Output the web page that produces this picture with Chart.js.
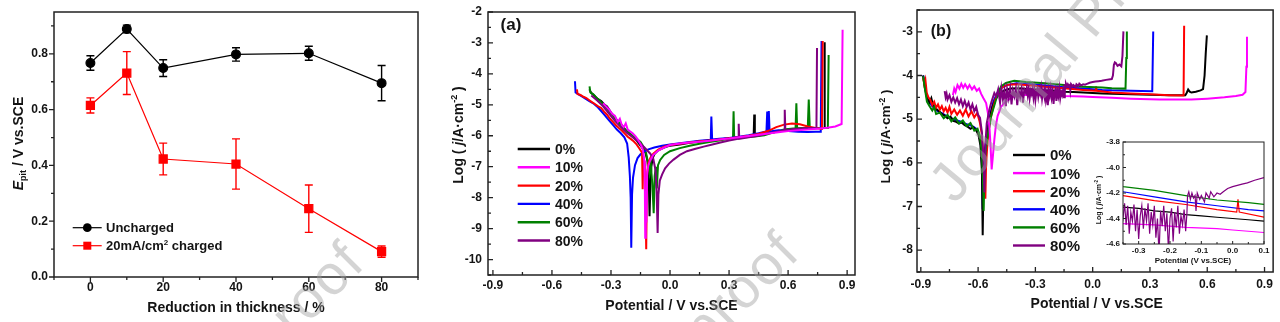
<!DOCTYPE html>
<html>
<head>
<meta charset="utf-8">
<title>Pitting potential and polarization curves</title>
<script src="https://cdn.jsdelivr.net/npm/chart.js@4.4.1/dist/chart.umd.min.js"></script>
<style>
  html, body { margin: 0; padding: 0; background: #fff; }
  #figure { position: relative; width: 1280px; height: 322px; overflow: hidden; }
  #figure canvas { position: absolute; top: 0; }
</style>
</head>
<body>
<div id="figure">
  <canvas id="epitChart" width="430" height="322" style="left:0"></canvas>
  <canvas id="polarA" width="450" height="322" style="left:430px"></canvas>
  <canvas id="polarB" width="410" height="322" style="left:870px"></canvas>
  <canvas id="polarInset" width="185" height="135" style="left:1090px; top:135px"></canvas>
  <canvas id="watermark" width="1280" height="322" style="left:0; pointer-events:none"></canvas>
</div>
<script>
// Fonts / colours
const FONT = '"Liberation Sans", Arial, sans-serif';
const INK = '#141414';
const bold = (size, italic) => `${italic ? 'italic ' : ''}bold ${size}px ${FONT}`;

// Pitting potential vs. reduction in thickness
const thickness = [0, 10, 20, 40, 60, 80];
const epitUncharged = [0.767, 0.889, 0.749, 0.798, 0.802, 0.695];
const errUncharged = [0.026, 0.014, 0.030, 0.024, 0.025, 0.063];
const epitCharged = [0.615, 0.731, 0.423, 0.405, 0.245, 0.091];
const errCharged = [0.027, 0.077, 0.057, 0.090, 0.085, 0.020];

const thicknessTicks = [0, 20, 40, 60, 80];
const epitTicks = [0, 0.2, 0.4, 0.6, 0.8];

// Polarization curves
const seriesLabels = ['0%', '10%', '20%', '40%', '60%', '80%'];
const seriesColors = ['#000000', '#ff00ff', '#ff0000', '#0000ff', '#008000', '#800080'];
const potentialTicks = [-0.9, -0.6, -0.3, 0, 0.3, 0.6, 0.9];
const logTicksA = [-10, -9, -8, -7, -6, -5, -4, -3, -2];
const logTicksB = [-8, -7, -6, -5, -4, -3];
const insetPotentialTicks = [-0.3, -0.2, -0.1, 0, 0.1];
const insetLogTicks = [-4.6, -4.4, -4.2, -4.0, -3.8];

// (a) [potential V, log j]
const curveA0 = [[-0.41,-4.50],[-0.40,-4.62],[-0.385,-4.70],[-0.37,-4.80],[-0.35,-4.88],[-0.335,-4.98],[-0.32,-5.05],[-0.30,-5.25],[-0.285,-5.38],[-0.27,-5.50],[-0.26,-5.58],[-0.245,-5.66],[-0.23,-5.78],[-0.215,-5.88],[-0.20,-5.95],[-0.185,-6.05],[-0.17,-6.15],[-0.155,-6.28],[-0.14,-6.40],[-0.125,-6.55],[-0.115,-6.80],[-0.108,-7.40],[-0.104,-8.60],[-0.100,-7.60],[-0.095,-7.00],[-0.088,-6.72],[-0.078,-6.58],[-0.06,-6.47],[-0.03,-6.38],[0.0,-6.32],[0.05,-6.28],[0.10,-6.23],[0.15,-6.19],[0.20,-6.15],[0.25,-6.12],[0.30,-6.08],[0.35,-6.05],[0.40,-6.02],[0.425,-6.00],[0.428,-5.31],[0.431,-6.00],[0.45,-5.98],[0.50,-5.92],[0.55,-5.86],[0.60,-5.80],[0.65,-5.78],[0.70,-5.76],[0.75,-5.75],[0.783,-5.74],[0.786,-2.98]];
const curveA10 = [[-0.34,-4.95],[-0.325,-5.05],[-0.31,-5.15],[-0.295,-5.28],[-0.28,-5.36],[-0.265,-5.55],[-0.255,-5.45],[-0.245,-5.65],[-0.235,-5.72],[-0.225,-5.60],[-0.215,-5.80],[-0.205,-5.85],[-0.19,-5.92],[-0.175,-6.02],[-0.16,-6.15],[-0.148,-6.30],[-0.138,-6.45],[-0.131,-6.80],[-0.128,-7.60],[-0.126,-9.30],[-0.123,-7.90],[-0.120,-8.80],[-0.116,-7.20],[-0.110,-6.95],[-0.10,-6.78],[-0.085,-6.62],[-0.06,-6.48],[-0.03,-6.38],[0.0,-6.30],[0.05,-6.25],[0.10,-6.22],[0.15,-6.19],[0.20,-6.16],[0.25,-6.12],[0.30,-6.09],[0.35,-6.05],[0.40,-6.01],[0.45,-5.97],[0.50,-5.93],[0.55,-5.89],[0.60,-5.85],[0.65,-5.82],[0.70,-5.80],[0.75,-5.77],[0.80,-5.74],[0.84,-5.70],[0.872,-5.62],[0.877,-2.57]];
const curveA20 = [[-0.473,-4.50],[-0.470,-4.65],[-0.455,-4.68],[-0.44,-4.74],[-0.425,-4.78],[-0.41,-4.85],[-0.395,-4.92],[-0.38,-4.98],[-0.365,-5.05],[-0.35,-5.10],[-0.335,-5.22],[-0.32,-5.32],[-0.305,-5.45],[-0.29,-5.55],[-0.275,-5.66],[-0.26,-5.75],[-0.245,-5.83],[-0.23,-5.93],[-0.215,-6.03],[-0.20,-6.10],[-0.185,-6.18],[-0.17,-6.28],[-0.155,-6.42],[-0.142,-6.55],[-0.139,-7.73],[-0.135,-6.70],[-0.127,-6.95],[-0.121,-9.67],[-0.117,-7.30],[-0.11,-6.88],[-0.10,-6.72],[-0.085,-6.58],[-0.06,-6.45],[-0.03,-6.35],[0.0,-6.30],[0.05,-6.26],[0.10,-6.22],[0.15,-6.18],[0.20,-6.15],[0.25,-6.12],[0.30,-6.08],[0.35,-6.05],[0.40,-6.00],[0.45,-5.94],[0.50,-5.84],[0.54,-5.72],[0.58,-5.64],[0.62,-5.60],[0.66,-5.63],[0.70,-5.70],[0.74,-5.75],[0.772,-5.78],[0.776,-2.94]];
const curveA40 = [[-0.483,-4.24],[-0.480,-4.60],[-0.465,-4.66],[-0.45,-4.72],[-0.43,-4.80],[-0.41,-4.88],[-0.39,-4.95],[-0.37,-5.06],[-0.35,-5.20],[-0.33,-5.35],[-0.31,-5.50],[-0.29,-5.65],[-0.27,-5.80],[-0.25,-5.92],[-0.232,-6.05],[-0.218,-6.25],[-0.210,-6.70],[-0.204,-7.30],[-0.200,-8.00],[-0.197,-9.62],[-0.193,-7.90],[-0.188,-7.35],[-0.178,-6.95],[-0.165,-6.72],[-0.15,-6.60],[-0.13,-6.50],[-0.11,-6.44],[-0.08,-6.38],[-0.04,-6.32],[0.0,-6.28],[0.05,-6.24],[0.10,-6.20],[0.15,-6.16],[0.207,-6.13],[0.210,-5.38],[0.214,-6.12],[0.25,-6.10],[0.30,-6.07],[0.35,-6.03],[0.40,-5.98],[0.45,-5.92],[0.490,-5.86],[0.494,-5.22],[0.498,-5.86],[0.502,-5.20],[0.506,-5.86],[0.55,-5.82],[0.60,-5.85],[0.65,-5.87],[0.70,-5.88],[0.74,-5.87],[0.766,-5.87],[0.770,-2.94]];
const curveA60 = [[-0.409,-4.40],[-0.405,-4.60],[-0.39,-4.66],[-0.375,-4.76],[-0.36,-4.85],[-0.345,-4.95],[-0.33,-5.05],[-0.315,-5.16],[-0.30,-5.28],[-0.285,-5.38],[-0.27,-5.50],[-0.255,-5.60],[-0.24,-5.72],[-0.225,-5.82],[-0.21,-5.90],[-0.195,-5.98],[-0.18,-6.06],[-0.165,-6.12],[-0.15,-6.20],[-0.135,-6.35],[-0.122,-6.55],[-0.112,-6.85],[-0.104,-7.20],[-0.098,-6.90],[-0.090,-7.55],[-0.083,-8.50],[-0.078,-7.30],[-0.072,-7.00],[-0.067,-7.70],[-0.061,-6.95],[-0.05,-6.78],[-0.03,-6.62],[0.0,-6.50],[0.05,-6.40],[0.10,-6.32],[0.15,-6.26],[0.20,-6.20],[0.25,-6.15],[0.30,-6.10],[0.320,-6.08],[0.323,-5.21],[0.326,-6.08],[0.38,-6.05],[0.43,-6.02],[0.48,-5.98],[0.53,-5.88],[0.58,-5.80],[0.638,-5.76],[0.642,-4.95],[0.646,-5.76],[0.70,-5.74],[0.705,-4.83],[0.710,-5.74],[0.76,-5.75],[0.802,-5.75],[0.806,-3.39]];
const curveA80 = [[-0.40,-4.70],[-0.37,-4.86],[-0.34,-5.05],[-0.31,-5.28],[-0.28,-5.52],[-0.25,-5.72],[-0.22,-5.90],[-0.19,-6.05],[-0.16,-6.20],[-0.13,-6.38],[-0.10,-6.58],[-0.085,-6.75],[-0.074,-7.10],[-0.068,-7.80],[-0.063,-9.14],[-0.059,-7.90],[-0.052,-7.45],[-0.040,-7.25],[-0.025,-7.05],[-0.005,-6.90],[0.018,-6.77],[0.05,-6.62],[0.086,-6.50],[0.13,-6.42],[0.171,-6.35],[0.21,-6.29],[0.256,-6.22],[0.30,-6.15],[0.346,-6.10],[0.349,-5.61],[0.352,-6.10],[0.40,-6.05],[0.45,-6.00],[0.50,-5.92],[0.55,-5.86],[0.580,-5.82],[0.583,-5.16],[0.586,-5.82],[0.63,-5.78],[0.68,-5.76],[0.72,-5.75],[0.744,-5.75],[0.747,-3.16]];

// (b) [potential V, log j]
const curveB0 = [[-0.888,-4.00],[-0.878,-4.30],[-0.868,-4.50],[-0.855,-4.62],[-0.845,-4.52],[-0.835,-4.70],[-0.82,-4.76],[-0.805,-4.82],[-0.79,-4.88],[-0.775,-4.92],[-0.76,-4.98],[-0.745,-4.94],[-0.73,-5.04],[-0.715,-5.06],[-0.70,-5.10],[-0.685,-5.08],[-0.67,-5.14],[-0.655,-5.17],[-0.64,-5.22],[-0.625,-5.18],[-0.61,-5.26],[-0.598,-5.36],[-0.588,-5.60],[-0.580,-6.20],[-0.576,-7.66],[-0.572,-6.50],[-0.565,-5.85],[-0.555,-5.40],[-0.54,-5.00],[-0.525,-4.72],[-0.51,-4.55],[-0.49,-4.42],[-0.465,-4.35],[-0.43,-4.30],[-0.38,-4.29],[-0.35,-4.31],[-0.30,-4.32],[-0.25,-4.34],[-0.20,-4.35],[-0.15,-4.37],[-0.10,-4.38],[-0.05,-4.39],[0.0,-4.40],[0.05,-4.41],[0.10,-4.42],[0.20,-4.43],[0.30,-4.44],[0.40,-4.45],[0.485,-4.45],[0.492,-4.40],[0.500,-4.32],[0.508,-4.37],[0.517,-4.39],[0.54,-4.37],[0.565,-4.34],[0.578,-4.31],[0.586,-4.00],[0.592,-3.50],[0.598,-3.08]];
const curveB10 = [[-0.732,-4.45],[-0.725,-4.30],[-0.718,-4.38],[-0.708,-4.22],[-0.698,-4.30],[-0.688,-4.19],[-0.678,-4.28],[-0.668,-4.20],[-0.655,-4.30],[-0.645,-4.22],[-0.632,-4.32],[-0.62,-4.25],[-0.607,-4.35],[-0.595,-4.30],[-0.584,-4.42],[-0.572,-4.52],[-0.558,-4.63],[-0.548,-4.88],[-0.541,-5.16],[-0.535,-5.60],[-0.529,-6.15],[-0.522,-5.82],[-0.515,-5.47],[-0.507,-5.15],[-0.498,-4.93],[-0.48,-4.72],[-0.463,-4.63],[-0.44,-4.55],[-0.411,-4.48],[-0.35,-4.44],[-0.25,-4.45],[-0.15,-4.47],[-0.05,-4.48],[0.0,-4.49],[0.10,-4.51],[0.20,-4.53],[0.35,-4.55],[0.517,-4.55],[0.60,-4.53],[0.69,-4.50],[0.75,-4.47],[0.785,-4.44],[0.800,-4.38],[0.805,-3.80],[0.808,-3.11]];
const curveB20 = [[-0.888,-4.05],[-0.882,-4.20],[-0.876,-4.10],[-0.869,-4.40],[-0.860,-4.50],[-0.850,-4.56],[-0.840,-4.68],[-0.830,-4.60],[-0.820,-4.74],[-0.810,-4.66],[-0.800,-4.78],[-0.790,-4.70],[-0.780,-4.82],[-0.770,-4.74],[-0.760,-4.85],[-0.750,-4.72],[-0.740,-4.88],[-0.725,-4.78],[-0.710,-4.90],[-0.695,-4.80],[-0.680,-4.92],[-0.665,-4.78],[-0.650,-4.94],[-0.635,-4.82],[-0.620,-4.96],[-0.605,-4.86],[-0.592,-5.05],[-0.582,-5.30],[-0.573,-5.80],[-0.567,-6.20],[-0.562,-6.82],[-0.558,-6.00],[-0.550,-5.50],[-0.540,-5.10],[-0.525,-4.80],[-0.510,-4.55],[-0.490,-4.35],[-0.470,-4.26],[-0.440,-4.21],[-0.40,-4.20],[-0.35,-4.22],[-0.25,-4.26],[-0.15,-4.29],[-0.05,-4.33],[0.013,-4.35],[0.017,-4.25],[0.021,-4.35],[0.10,-4.39],[0.20,-4.41],[0.30,-4.43],[0.40,-4.45],[0.476,-4.46],[0.479,-2.86]];
const curveB40 = [[-0.888,-4.00],[-0.876,-4.30],[-0.865,-4.55],[-0.850,-4.65],[-0.830,-4.75],[-0.810,-4.82],[-0.790,-4.86],[-0.770,-4.92],[-0.750,-4.96],[-0.730,-5.00],[-0.710,-5.03],[-0.690,-5.06],[-0.670,-5.10],[-0.650,-5.13],[-0.630,-5.16],[-0.610,-5.22],[-0.596,-5.32],[-0.586,-5.56],[-0.580,-6.00],[-0.576,-7.06],[-0.572,-6.30],[-0.565,-5.70],[-0.550,-5.20],[-0.535,-4.85],[-0.520,-4.60],[-0.500,-4.40],[-0.480,-4.28],[-0.450,-4.22],[-0.40,-4.18],[-0.35,-4.19],[-0.25,-4.23],[-0.15,-4.27],[-0.05,-4.30],[0.05,-4.33],[0.10,-4.34],[0.20,-4.35],[0.312,-4.36],[0.317,-2.99]];
const curveB60 = [[-0.888,-4.02],[-0.877,-4.35],[-0.868,-4.60],[-0.855,-4.70],[-0.840,-4.80],[-0.830,-4.72],[-0.820,-4.88],[-0.800,-4.85],[-0.780,-4.98],[-0.760,-4.90],[-0.740,-5.05],[-0.720,-4.96],[-0.700,-5.10],[-0.680,-5.03],[-0.660,-5.16],[-0.640,-5.09],[-0.620,-5.26],[-0.603,-5.22],[-0.590,-5.40],[-0.580,-5.80],[-0.574,-6.50],[-0.571,-7.10],[-0.567,-6.20],[-0.560,-5.70],[-0.550,-5.40],[-0.532,-4.93],[-0.506,-4.55],[-0.480,-4.25],[-0.454,-4.17],[-0.411,-4.12],[-0.35,-4.15],[-0.25,-4.18],[-0.15,-4.22],[-0.05,-4.255],[0.05,-4.275],[0.10,-4.29],[0.172,-4.30],[0.176,-3.60],[0.179,-2.99]];
const curveB80 = [[-0.775,-4.36],[-0.770,-4.50],[-0.765,-4.42],[-0.760,-4.55],[-0.750,-4.45],[-0.740,-4.60],[-0.730,-4.50],[-0.720,-4.62],[-0.710,-4.52],[-0.700,-4.66],[-0.690,-4.55],[-0.680,-4.70],[-0.670,-4.58],[-0.660,-4.72],[-0.650,-4.62],[-0.640,-4.78],[-0.630,-4.66],[-0.620,-4.82],[-0.610,-4.72],[-0.600,-4.90],[-0.590,-4.97],[-0.580,-5.30],[-0.572,-5.90],[-0.567,-6.68],[-0.562,-5.60],[-0.555,-5.10],[-0.541,-4.78],[-0.530,-4.60],[-0.515,-4.40],[-0.505,-4.48],[-0.495,-4.32],[-0.485,-4.62],[-0.478,-4.30],[-0.470,-4.55],[-0.462,-4.34],[-0.455,-4.70],[-0.448,-4.32],[-0.440,-4.52],[-0.432,-4.30],[-0.425,-4.66],[-0.418,-4.34],[-0.410,-4.48],[-0.402,-4.30],[-0.395,-4.68],[-0.388,-4.33],[-0.380,-4.50],[-0.372,-4.30],[-0.365,-4.62],[-0.358,-4.32],[-0.350,-4.40],[-0.345,-4.28],[-0.340,-4.45],[-0.335,-4.30],[-0.330,-4.52],[-0.325,-4.35],[-0.320,-4.42],[-0.315,-4.29],[-0.310,-4.50],[-0.305,-4.33],[-0.300,-4.56],[-0.295,-4.38],[-0.290,-4.30],[-0.285,-4.48],[-0.280,-4.32],[-0.275,-4.42],[-0.270,-4.28],[-0.265,-4.52],[-0.260,-4.35],[-0.255,-4.45],[-0.250,-4.30],[-0.245,-4.55],[-0.240,-4.40],[-0.235,-4.68],[-0.230,-4.34],[-0.225,-4.46],[-0.220,-4.30],[-0.215,-4.50],[-0.210,-4.36],[-0.205,-4.65],[-0.200,-4.40],[-0.195,-4.32],[-0.190,-4.58],[-0.185,-4.35],[-0.180,-4.47],[-0.175,-4.30],[-0.170,-4.52],[-0.165,-4.38],[-0.160,-4.45],[-0.155,-4.33],[-0.150,-4.50],[-0.146,-4.36],[-0.144,-4.22],[-0.140,-4.19],[-0.135,-4.25],[-0.130,-4.20],[-0.125,-4.24],[-0.120,-4.22],[-0.117,-4.34],[-0.113,-4.20],[-0.105,-4.25],[-0.100,-4.22],[-0.090,-4.27],[-0.085,-4.20],[-0.075,-4.24],[-0.070,-4.19],[-0.060,-4.23],[-0.050,-4.20],[-0.040,-4.21],[-0.030,-4.19],[-0.016,-4.165],[0.0,-4.15],[0.015,-4.14],[0.030,-4.13],[0.047,-4.12],[0.070,-4.10],[0.100,-4.08],[0.106,-4.00],[0.111,-3.76],[0.116,-3.70],[0.122,-3.72],[0.130,-3.78],[0.140,-3.75],[0.150,-3.79],[0.156,-3.55],[0.161,-2.99]];

// Draw order (first entry ends up on top)
const curvesA = [[1, curveA10], [5, curveA80], [2, curveA20], [3, curveA40], [4, curveA60], [0, curveA0]];
const curvesB = [[5, curveB80], [1, curveB10], [4, curveB60], [2, curveB20], [0, curveB0], [3, curveB40]];

// Text runs (mixed italic / sub / superscript), centred or left aligned
function drawRuns(ctx, runs, x, y, opts = {}) {
  const size = opts.size || 14;
  ctx.save();
  ctx.translate(x, y);
  if (opts.angle) ctx.rotate(opts.angle);
  ctx.fillStyle = opts.color || INK;
  ctx.textBaseline = 'alphabetic';
  ctx.textAlign = 'left';
  let total = 0;
  runs.forEach(r => { ctx.font = r.font; r.w = ctx.measureText(r.text).width; total += r.w; });
  let cx = opts.align === 'left' ? 0 : -total / 2;
  const base = size * 0.36;
  runs.forEach(r => { ctx.font = r.font; ctx.fillText(r.text, cx, base + (r.dy || 0)); cx += r.w; });
  ctx.restore();
}

function logTitle(size, sup) {
  return [
    { text: 'Log ( ', font: bold(size) },
    { text: 'j', font: bold(size, true) },
    { text: '/A·cm', font: bold(size) },
    { text: '-2', font: bold(sup), dy: -size * 0.38 },
    { text: ' )', font: bold(size) }
  ];
}

// Minor ticks halfway between the labelled ones
function minorTicks(ticks, min, max) {
  const step = ticks[1] - ticks[0];
  const out = [];
  for (let i = -1; i < ticks.length; i++) {
    const v = ticks[0] + (i + 0.5) * step;
    if (v >= min - 1e-9 && v <= max + 1e-9) out.push(v);
  }
  return out;
}

// Box frame + major/minor tick marks
const framePlugin = {
  id: 'frame',
  afterDatasetsDraw(chart, args, opts) {
    const { ctx, chartArea: a } = chart;
    const xs = chart.scales.x, ys = chart.scales.y;
    const dir = opts.inward ? -1 : 1;
    ctx.save();
    ctx.strokeStyle = '#222';
    ctx.lineWidth = opts.lineWidth;
    ctx.strokeRect(a.left, a.top, a.right - a.left, a.bottom - a.top);
    ctx.lineWidth = opts.tickWidth;
    ctx.beginPath();
    const markX = (vals, len) => vals.forEach(v => {
      const p = xs.getPixelForValue(v);
      ctx.moveTo(p, a.bottom); ctx.lineTo(p, a.bottom + dir * len);
    });
    const markY = (vals, len) => vals.forEach(v => {
      const p = ys.getPixelForValue(v);
      ctx.moveTo(a.left, p); ctx.lineTo(a.left - dir * len, p);
    });
    markX(opts.xTicks, opts.major);
    markX(minorTicks(opts.xTicks, xs.min, xs.max), opts.minor);
    markY(opts.yTicks, opts.major);
    markY(minorTicks(opts.yTicks, ys.min, ys.max), opts.minor);
    ctx.stroke();
    ctx.restore();
  }
};

// Vertical error bars with caps
const errorBarPlugin = {
  id: 'errorBars',
  beforeDatasetsDraw(chart) {
    const { ctx } = chart;
    const ys = chart.scales.y;
    chart.data.datasets.forEach((ds, i) => {
      const meta = chart.getDatasetMeta(i);
      ctx.save();
      ctx.strokeStyle = ds.borderColor;
      ctx.lineWidth = 1.4;
      ctx.beginPath();
      meta.data.forEach((pt, j) => {
        const v = ds.data[j].y, e = ds.errors[j];
        const top = ys.getPixelForValue(v + e), bot = ys.getPixelForValue(v - e);
        ctx.moveTo(pt.x, top); ctx.lineTo(pt.x, bot);
        ctx.moveTo(pt.x - 4, top); ctx.lineTo(pt.x + 4, top);
        ctx.moveTo(pt.x - 4, bot); ctx.lineTo(pt.x + 4, bot);
      });
      ctx.stroke();
      ctx.restore();
    });
  }
};

function linearAxis(cfg) {
  return {
    type: 'linear',
    min: cfg.min,
    max: cfg.max,
    grid: { display: false, drawTicks: false },
    border: { display: false },
    afterBuildTicks: scale => { scale.ticks = cfg.ticks.map(v => ({ value: v })); },
    afterFit: scale => {
      if (cfg.width) scale.width = cfg.width;
      if (cfg.height) scale.height = cfg.height;
    },
    ticks: {
      autoSkip: false, maxRotation: 0, minRotation: 0, padding: cfg.pad, color: INK,
      font: { family: FONT, size: cfg.fontSize, weight: 'bold', lineHeight: 1 },
      callback: cfg.format
    }
  };
}

function makeChart(id, datasets, cfg) {
  return new Chart(document.getElementById(id), {
    type: 'scatter',
    data: { datasets },
    options: {
      responsive: false,
      animation: false,
      devicePixelRatio: 1,
      events: [],
      layout: { padding: cfg.padding },
      plugins: { legend: { display: false }, tooltip: { enabled: false }, frame: cfg.frame },
      scales: { x: linearAxis(cfg.x), y: linearAxis(cfg.y) }
    },
    plugins: [framePlugin].concat(cfg.extra || [])
  });
}

function curveSets(list, width) {
  return list.map(([k, data]) => ({
    label: seriesLabels[k],
    data,
    showLine: true,
    borderColor: seriesColors[k],
    borderWidth: width,
    pointRadius: 0,
    tension: 0
  }));
}

function drawSeriesLegend(ctx, x0, x1, y0, dy, size) {
  seriesLabels.forEach((label, i) => {
    const y = y0 + i * dy;
    ctx.save();
    ctx.strokeStyle = seriesColors[i];
    ctx.lineWidth = 2.4;
    ctx.beginPath(); ctx.moveTo(x0, y); ctx.lineTo(x1, y); ctx.stroke();
    ctx.restore();
    drawRuns(ctx, [{ text: label, font: bold(size) }], x1 + 5, y, { size, align: 'left' });
  });
}

const fixed1 = v => v.toFixed(1);
const whole = v => String(v);

// Pitting potential chart
const epitChart = makeChart('epitChart', [
  {
    label: 'Uncharged',
    data: thickness.map((t, i) => ({ x: t, y: epitUncharged[i] })),
    errors: errUncharged,
    showLine: true, borderColor: '#000', backgroundColor: '#000', borderWidth: 1.2,
    pointStyle: 'circle', pointRadius: 4.4
  },
  {
    label: '20mA/cm2 charged',
    data: thickness.map((t, i) => ({ x: t, y: epitCharged[i] })),
    errors: errCharged,
    showLine: true, borderColor: '#ff0000', backgroundColor: '#ff0000', borderWidth: 1.2,
    pointStyle: 'rect', pointRadius: 5.7
  }
], {
  padding: { left: 0, top: 10, right: 12, bottom: 0 },
  x: { min: -10, max: 90, ticks: thicknessTicks, height: 45, pad: 5, fontSize: 12, format: whole },
  y: { min: 0, max: 0.95, ticks: epitTicks, width: 54, pad: 6, fontSize: 12, format: fixed1 },
  frame: { inward: false, lineWidth: 1.5, tickWidth: 1.3, xTicks: thicknessTicks, yTicks: epitTicks, major: 5, minor: 3 },
  extra: [errorBarPlugin, {
    id: 'epitText',
    afterDraw(chart) {
      const ctx = chart.ctx;
      drawRuns(ctx, [{ text: 'Reduction in thickness / %', font: bold(14) }], 236, 307);
      drawRuns(ctx, [
        { text: 'E', font: bold(14, true) },
        { text: 'pit', font: bold(9), dy: 3 },
        { text: ' / V vs.SCE', font: bold(14) }
      ], 18, 143.5, { angle: -Math.PI / 2 });
      // legend
      ctx.save();
      ctx.lineWidth = 1.2;
      ctx.strokeStyle = '#000';
      ctx.beginPath(); ctx.moveTo(72.7, 227.7); ctx.lineTo(101.7, 227.7); ctx.stroke();
      ctx.fillStyle = '#000';
      ctx.beginPath(); ctx.arc(87.3, 227.7, 4.4, 0, Math.PI * 2); ctx.fill();
      ctx.strokeStyle = '#ff0000';
      ctx.beginPath(); ctx.moveTo(72.7, 245.7); ctx.lineTo(101.7, 245.7); ctx.stroke();
      ctx.fillStyle = '#ff0000';
      ctx.fillRect(83.3, 241.7, 8, 8);
      ctx.restore();
      drawRuns(ctx, [{ text: 'Uncharged', font: bold(13) }], 106, 227.7, { size: 13, align: 'left' });
      drawRuns(ctx, [
        { text: '20mA/cm', font: bold(13) },
        { text: '2', font: bold(8), dy: -5 },
        { text: ' charged', font: bold(13) }
      ], 106, 245.7, { size: 13, align: 'left' });
    }
  }]
});

// Polarization curves (a)
const polarA = makeChart('polarA', curveSets(curvesA, 2), {
  padding: { left: 0, top: 6, right: 25, bottom: 0 },
  x: { min: -0.925, max: 0.94, ticks: potentialTicks, height: 47, pad: 5, fontSize: 12, format: fixed1 },
  y: { min: -10.5, max: -2, ticks: logTicksA, width: 58, pad: 6, fontSize: 12, format: whole },
  frame: { inward: true, lineWidth: 1.5, tickWidth: 1.3, xTicks: potentialTicks, yTicks: logTicksA, major: 5, minor: 3 },
  extra: [{
    id: 'polarAText',
    afterDraw(chart) {
      const ctx = chart.ctx;
      drawRuns(ctx, [{ text: 'Potential / V vs.SCE', font: bold(14) }], 241.5, 305);
      drawRuns(ctx, logTitle(14, 9), 27.7, 135, { angle: -Math.PI / 2 });
      drawRuns(ctx, [{ text: '(a)', font: bold(17) }], 81, 24, { size: 17 });
      drawSeriesLegend(ctx, 87.7, 120, 149, 18.3, 14);
    }
  }]
});

// Polarization curves (b)
const polarB = makeChart('polarB', curveSets(curvesB, 2), {
  padding: { left: 0, top: 10, right: 5, bottom: 0 },
  x: { min: -0.92, max: 0.945, ticks: potentialTicks, height: 50, pad: 7, fontSize: 12, format: fixed1 },
  y: { min: -8.5, max: -2.5, ticks: logTicksB, width: 47, pad: 4, fontSize: 12, format: whole },
  frame: { inward: true, lineWidth: 1.5, tickWidth: 1.3, xTicks: potentialTicks, yTicks: logTicksB, major: 5, minor: 3 },
  extra: [{
    id: 'polarBText',
    afterDraw(chart) {
      const ctx = chart.ctx;
      drawRuns(ctx, [{ text: 'Potential / V vs.SCE', font: bold(14) }], 226.7, 303);
      drawRuns(ctx, logTitle(13.5, 8.5), 15, 136.5, { angle: -Math.PI / 2, size: 13.5 });
      drawRuns(ctx, [{ text: '(b)', font: bold(16) }], 71, 30, { size: 16 });
      drawSeriesLegend(ctx, 143, 175, 155, 18.1, 15);
    }
  }]
});

// Inset: passive region of (b)
const polarInset = makeChart('polarInset', curveSets(curvesB, 1.2), {
  padding: { left: 0, top: 7, right: 11, bottom: 0 },
  x: { min: -0.35, max: 0.1, ticks: insetPotentialTicks, height: 26, pad: 3, fontSize: 8, format: fixed1 },
  y: { min: -4.6, max: -3.8, ticks: insetLogTicks, width: 33, pad: 3, fontSize: 8, format: fixed1 },
  frame: { inward: true, lineWidth: 1, tickWidth: 1, xTicks: insetPotentialTicks, yTicks: insetLogTicks, major: 3, minor: 2 },
  extra: [{
    id: 'insetText',
    beforeDatasetsDraw(chart) {
      const { ctx, chartArea: a } = chart;
      ctx.save();
      ctx.fillStyle = '#fff';
      ctx.fillRect(a.left, a.top, a.right - a.left, a.bottom - a.top);
      ctx.restore();
    },
    afterDraw(chart) {
      const ctx = chart.ctx;
      drawRuns(ctx, [{ text: 'Potential (V vs.SCE)', font: bold(8) }], 103, 125, { size: 8 });
      drawRuns(ctx, logTitle(7, 4.5), 8, 65, { angle: -Math.PI / 2, size: 7 });
    }
  }]
});

// Page watermark, anchored on one glyph of each copy
function drawWatermark() {
  const ctx = document.getElementById('watermark').getContext('2d');
  const text = 'Journal Pre-proof';
  ctx.fillStyle = 'rgba(160,160,160,0.45)';
  ctx.font = `56px ${FONT}`;
  ctx.letterSpacing = '2px';
  const marks = [
    { x: 355, y: 277, angle: -45, before: 'Journal Pre-proo' },
    { x: 790, y: 267, angle: -45, before: 'Journal Pre-proo' },
    { x: 955, y: 205, angle: -50, before: '' }
  ];
  marks.forEach(m => {
    const back = ctx.measureText(m.before).width;
    ctx.save();
    ctx.translate(m.x, m.y);
    ctx.rotate(m.angle * Math.PI / 180);
    ctx.fillText(text, -back, 0);
    ctx.restore();
  });
}
drawWatermark();
</script>
</body>
</html>
